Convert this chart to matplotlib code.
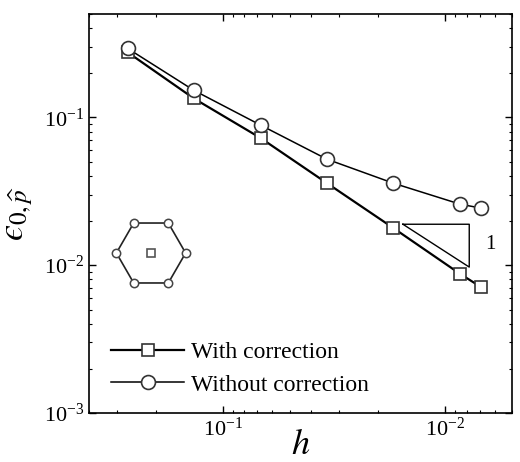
import numpy as np
import matplotlib
matplotlib.use("Agg")
import matplotlib.pyplot as plt

plt.rcParams['font.family'] = ['Liberation Serif', 'DejaVu Serif']
plt.rcParams['mathtext.fontset'] = 'stix'

# mesh size h and error values
h = [0.268, 0.135, 0.0675, 0.034, 0.0171, 0.00855, 0.0069]
err_with = [0.275, 0.134, 0.0722, 0.0358, 0.0178, 0.0087, 0.0071]
err_without = [0.292, 0.152, 0.0883, 0.052, 0.0358, 0.0258, 0.0243]

# slope-1 triangle
tri_h = [0.0155, 0.0078, 0.0078, 0.0155]
tri_e = [0.0189, 0.0189, 0.0097, 0.0189]

fig = plt.figure(figsize=(5.2, 4.62), dpi=100)
ax = fig.add_axes([0.171, 0.106, 0.814, 0.864])

ax.loglog(h, err_with, '-s', color='black', lw=1.6, ms=8, mfc='white',
          mec='#333333', mew=1.2, label='With correction')
ax.loglog(h, err_without, '-o', color='black', lw=1.1, ms=10, mfc='white',
          mec='#333333', mew=1.2, label='Without correction')
ax.plot(tri_h, tri_e, color='black', lw=1.0)
ax.text(0.0066, 0.0137, '1', fontsize=15, ha='left', va='center')

ax.set_xlim(0.4, 0.005)
ax.set_ylim(1e-3, 0.5)

ax.tick_params(which='both', direction='in', top=True, right=True, labelsize=16)
ax.tick_params(which='major', length=5, width=1)
ax.tick_params(which='minor', length=2.5, width=0.8)
for s in ax.spines.values():
    s.set_linewidth(1.2)

ax.set_xlabel(r'$h$', fontsize=26, labelpad=-9)
ax.set_ylabel('$\u03f5_{0,\\widehat{p}}$', fontsize=26, labelpad=6)

leg = ax.legend(loc='lower left', bbox_to_anchor=(0.03, 0.02), frameon=False,
                fontsize=17, handlelength=3.1, handletextpad=0.3, labelspacing=0.45,
                borderaxespad=0)

# hexagon stencil inset
ins = fig.add_axes([(151 - 45) / 520, 1 - (253 + 45) / 462, 90 / 520, 90 / 462])
ang = np.deg2rad(np.arange(0, 361, 60))
ins.plot(np.cos(ang), np.sin(ang), color='#222222', lw=1.2)
ins.plot(np.cos(ang[:-1]), np.sin(ang[:-1]), 'o', ms=6, mfc='white', mec='#444444', mew=1.1)
ins.plot([0], [0], 's', ms=6, mfc='white', mec='#555555', mew=1.2)
ins.set_xlim(-1.3, 1.3)
ins.set_ylim(-1.3, 1.3)
ins.axis('off')

fig.savefig('out.png', dpi=100)
